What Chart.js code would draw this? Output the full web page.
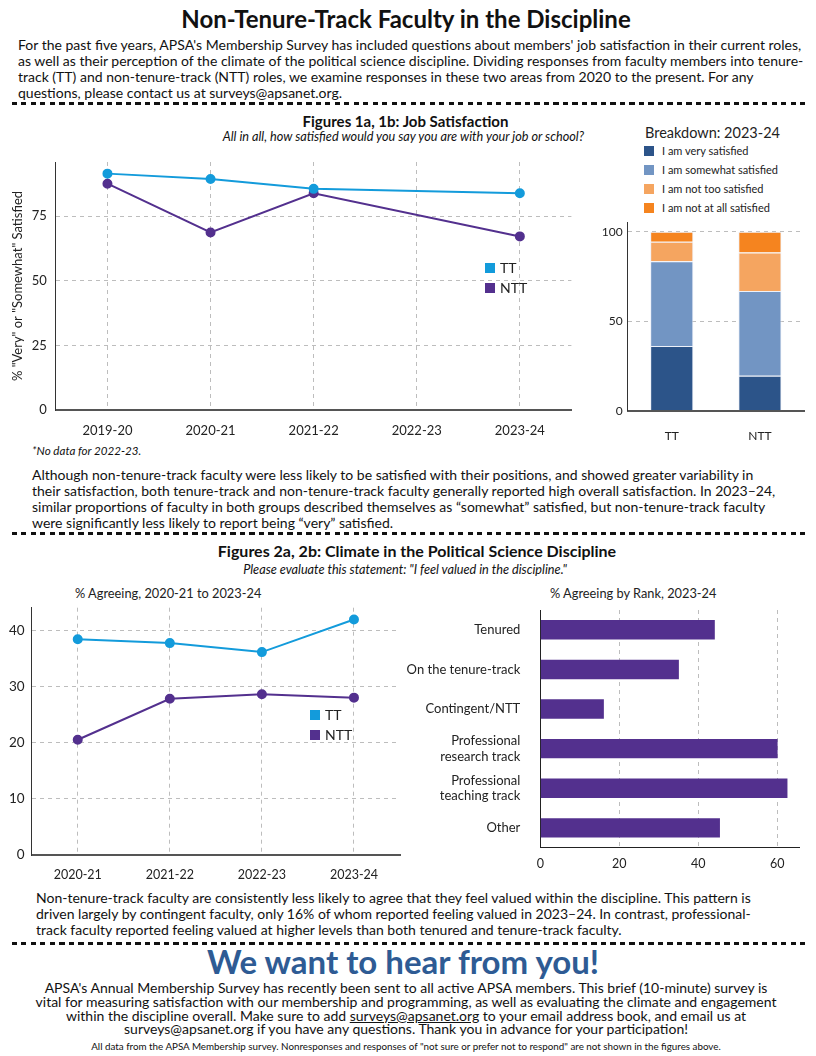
<!DOCTYPE html>
<html>
<head>
<meta charset="utf-8">
<script src="https://cdn.jsdelivr.net/npm/chart.js@4.4.1/dist/chart.umd.min.js"></script>
<style>
  body { margin: 0; width: 816px; height: 1056px; position: relative; background: #fff; font-family: Lato, sans-serif; color: #111; overflow: hidden; }
  .abs { position: absolute; }
  .line { white-space: nowrap; }
  .dash { position: absolute; left: 12px; width: 794px; height: 3px;
          background: repeating-linear-gradient(90deg, #111 0 5px, transparent 5px 9.5px); }
  .box { position: absolute; }
  .legend { position: absolute; font-size: 14px; color: #222; }
  .legend .item { position: relative; height: 20px; line-height: 20px; padding-left: 15px; }
  .legend .sw { position: absolute; left: 0; top: 5px; width: 10px; height: 10px; }
  #leg1b .item { height: 19px; line-height: 19px; padding-left: 18px; }
  #leg1b .sw { top: 4.5px; }
</style>
</head>
<body>

<div class="abs line" style="left:0;width:812px;top:4px;text-align:center;font-weight:bold;font-size:24px;">Non-Tenure-Track Faculty in the Discipline</div>
<div class="abs line" style="left:18px;top:37px;font-size:14px;line-height:16px;">
For the past five years, APSA's Membership Survey has included questions about members' job satisfaction in their current roles,<br>
as well as their perception of the climate of the political science discipline. Dividing responses from faculty members into tenure-<br>
track (TT) and non-tenure-track (NTT) roles, we examine responses in these two areas from 2020 to the present. For any<br>
questions, please contact us at surveys@apsanet.org.
</div>
<div class="dash" style="top:102px;"></div>

<div class="abs line" style="left:0;width:811px;top:112px;text-align:center;font-weight:bold;font-size:15px;">Figures 1a, 1b: Job Satisfaction</div>
<div class="abs line" style="left:0;width:584px;top:128px;text-align:right;font-style:italic;font-size:12.7px;">All in all, how satisfied would you say you are with your job or school?</div>

<div class="box" style="left:0;top:150px;width:580px;height:290px;"><canvas id="c1a"></canvas></div>
<div class="legend" id="leg1a" style="left:485px;top:257.7px;"></div>

<div class="abs line" style="left:645px;top:124px;font-size:14.5px;color:#222;">Breakdown: 2023-24</div>
<div class="legend" id="leg1b" style="left:644px;top:141px;font-size:11px;"></div>
<div class="box" style="left:600px;top:210px;width:216px;height:230px;"><canvas id="c1b"></canvas></div>

<div class="abs line" style="left:32px;top:444px;font-style:italic;font-size:11.6px;">*No data for 2022-23.</div>
<div class="abs line" style="left:32px;top:467px;font-size:14px;line-height:16px;">
Although non-tenure-track faculty were less likely to be satisfied with their positions, and showed greater variability in<br>
their satisfaction, both tenure-track and non-tenure-track faculty generally reported high overall satisfaction. In 2023–24,<br>
similar proportions of faculty in both groups described themselves as “somewhat” satisfied, but non-tenure-track faculty<br>
were significantly less likely to report being “very” satisfied.
</div>
<div class="dash" style="top:532px;"></div>

<div class="abs line" style="left:0;width:834px;top:541px;text-align:center;font-weight:bold;font-size:16px;">Figures 2a, 2b: Climate in the Political Science Discipline</div>
<div class="abs line" style="left:0;width:810px;top:561px;text-align:center;font-style:italic;font-size:12.7px;">Please evaluate this statement: "I feel valued in the discipline."</div>
<div class="abs line" style="left:75px;top:585px;font-size:12.8px;color:#222;">% Agreeing, 2020-21 to 2023-24</div>
<div class="abs line" style="left:550px;top:585px;font-size:12.8px;color:#222;">% Agreeing by Rank, 2023-24</div>

<div class="box" style="left:0;top:596px;width:410px;height:284px;"><canvas id="c2a"></canvas></div>
<div class="legend" id="leg2a" style="left:310px;top:705px;"></div>
<div class="box" style="left:400px;top:598px;width:416px;height:282px;"><canvas id="c2b"></canvas></div>

<div class="abs line" style="left:36px;top:890px;font-size:14px;line-height:16px;">
Non-tenure-track faculty are consistently less likely to agree that they feel valued within the discipline. This pattern is<br>
driven largely by contingent faculty, only 16% of whom reported feeling valued in 2023–24. In contrast, professional-<br>
track faculty reported feeling valued at higher levels than both tenured and tenure-track faculty.
</div>
<div class="dash" style="top:942px;"></div>

<div class="abs line" style="left:0;width:806px;top:941px;text-align:center;font-weight:bold;font-size:33px;color:#2e5b94;">We want to hear from you!</div>
<div class="abs line" style="left:0;width:812px;top:981px;text-align:center;font-size:14px;line-height:13.8px;">
APSA's Annual Membership Survey has recently been sent to all active APSA members. This brief (10-minute) survey is<br>
vital for measuring satisfaction with our membership and programming, as well as evaluating the climate and engagement<br>
within the discipline overall. Make sure to add <u>surveys@apsanet.org</u> to your email address book, and email us at<br>
surveys@apsanet.org if you have any questions. Thank you in advance for your participation!
</div>
<div class="abs line" style="left:0;width:812px;top:1040px;text-align:center;font-size:9.8px;">All data from the APSA Membership survey. Nonresponses and responses of "not sure or prefer not to respond" are not shown in the figures above.</div>

<script>
// ---- data ----
const seasons1 = ['2019-20', '2020-21', '2021-22', '2022-23', '2023-24'];
const ttSatisfied = [91.5, 89.4, 85.6, null, 83.9];
const nttSatisfied = [87.6, 68.7, 83.9, null, 67.2];

const groups = ['TT', 'NTT'];
const breakdownLabels = ['I am very satisfied', 'I am somewhat satisfied', 'I am not too satisfied', 'I am not at all satisfied'];
const verySatisfied = [36.2, 19.5];
const somewhatSatisfied = [47.3, 47.3];
const notTooSatisfied = [10.9, 21.5];
const notAtAllSatisfied = [5.6, 11.7];

const seasons2 = ['2020-21', '2021-22', '2022-23', '2023-24'];
const ttValued = [38.4, 37.7, 36.1, 41.9];
const nttValued = [20.5, 27.8, 28.6, 28.0];

const ranks = ['Tenured', 'On the tenure-track', 'Contingent/NTT', ['Professional', 'research track'], ['Professional', 'teaching track'], 'Other'];
const rankValued = [44.2, 35.1, 16.1, 60.1, 62.6, 45.5];

const seriesNames = ['TT', 'NTT'];
const TT_BLUE = '#139bdb';
const NTT_PURPLE = '#53308e';
const breakdownColors = ['#2c5489', '#7295c3', '#f5a560', '#f5841f'];

Chart.defaults.font.family = 'Lato';
Chart.defaults.font.size = 12;
Chart.defaults.color = '#222';
Chart.defaults.animation = false;

const dashGrid = { color: '#bdbdbd', drawTicks: false };

// pin the scale box so the plot area lands where the reference has it
function fixWidth(w) {
  return (scale) => { scale.width = w; scale.paddingTop = 0; scale.paddingBottom = 0; };
}
function fixHeight(h) {
  return (scale) => { scale.height = h; scale.paddingLeft = 0; scale.paddingRight = 0; };
}

function makeLegend(id, names, colors) {
  const el = document.getElementById(id);
  names.forEach((n, i) => {
    const d = document.createElement('div');
    d.className = 'item';
    d.innerHTML = '<span class="sw" style="background:' + colors[i] + '"></span>' + n;
    el.appendChild(d);
  });
}

function lineDataset(label, data, color) {
  return {
    label: label, data: data, borderColor: color, backgroundColor: color,
    borderWidth: 2, pointRadius: 4, pointHoverRadius: 4, spanGaps: true, tension: 0
  };
}

// Figure 1a
new Chart(document.getElementById('c1a'), {
  type: 'line',
  data: {
    labels: seasons1,
    datasets: [lineDataset('TT', ttSatisfied, TT_BLUE), lineDataset('NTT', nttSatisfied, NTT_PURPLE)]
  },
  options: {
    responsive: true, maintainAspectRatio: false,
    layout: { padding: { top: 12, right: 8.6 } },
    plugins: { legend: { display: false }, tooltip: { enabled: false } },
    scales: {
      x: {
        offset: true,
        grid: { ...dashGrid, offset: false },
        border: { color: '#555', width: 2, dash: [4, 4] },
        ticks: { padding: 13, font: { size: 13 } },
        afterFit: fixHeight(30)
      },
      y: {
        min: 0, max: 96,
        grid: dashGrid,
        border: { color: '#333', width: 1, dash: [4, 4] },
        ticks: { stepSize: 25, padding: 9, includeBounds: false, font: { size: 13 } },
        title: { display: true, text: '% "Very" or "Somewhat" Satisfied', font: { size: 13 }, padding: { top: 10, bottom: 0 } },
        afterFit: fixWidth(55.9)
      }
    }
  }
});
makeLegend('leg1a', seriesNames, [TT_BLUE, NTT_PURPLE]);

// Figure 1b
const breakdownValues = [verySatisfied, somewhatSatisfied, notTooSatisfied, notAtAllSatisfied];
new Chart(document.getElementById('c1b'), {
  type: 'bar',
  data: {
    labels: groups,
    datasets: breakdownLabels.map((l, i) => ({
      label: l, data: breakdownValues[i], backgroundColor: breakdownColors[i],
      borderColor: 'rgba(235,240,248,0.9)', borderWidth: 1,
      barPercentage: 0.49, categoryPercentage: 1
    }))
  },
  options: {
    responsive: true, maintainAspectRatio: false,
    layout: { padding: { top: 12.7, right: 12 } },
    plugins: { legend: { display: false }, tooltip: { enabled: false } },
    scales: {
      x: {
        stacked: true,
        grid: { display: false },
        border: { color: '#555', width: 2 },
        ticks: { padding: 10, font: { size: 12 } },
        afterFit: fixHeight(29.3)
      },
      y: {
        stacked: true, min: 0, max: 105,
        grid: dashGrid,
        border: { color: '#333', width: 1, dash: [4, 4] },
        ticks: { stepSize: 50, padding: 5, includeBounds: false, font: { size: 12 } },
        afterFit: fixWidth(27.7)
      }
    }
  }
});
makeLegend('leg1b', breakdownLabels, breakdownColors);

// Figure 2a
new Chart(document.getElementById('c2a'), {
  type: 'line',
  data: {
    labels: seasons2,
    datasets: [lineDataset('TT', ttValued, TT_BLUE), lineDataset('NTT', nttValued, NTT_PURPLE)]
  },
  options: {
    responsive: true, maintainAspectRatio: false,
    layout: { padding: { top: 11.7, right: 10 } },
    plugins: { legend: { display: false }, tooltip: { enabled: false } },
    scales: {
      x: {
        offset: true,
        grid: { ...dashGrid, offset: false },
        border: { color: '#555', width: 2, dash: [4, 4] },
        ticks: { padding: 12, font: { size: 12.5 } },
        afterFit: fixHeight(25)
      },
      y: {
        min: 0, max: 44,
        grid: dashGrid,
        border: { color: '#333', width: 1, dash: [4, 4] },
        ticks: { stepSize: 10, padding: 7, includeBounds: false, font: { size: 13.5 } },
        afterFit: fixWidth(31.7)
      }
    }
  }
});
makeLegend('leg2a', seriesNames, [TT_BLUE, NTT_PURPLE]);

// Figure 2b
new Chart(document.getElementById('c2b'), {
  type: 'bar',
  data: {
    labels: ranks,
    datasets: [{ label: '% Agreeing', data: rankValued, backgroundColor: NTT_PURPLE, barPercentage: 0.49, categoryPercentage: 1 }]
  },
  options: {
    indexAxis: 'y',
    responsive: true, maintainAspectRatio: false,
    layout: { padding: { top: 12, right: 16.7 } },
    plugins: { legend: { display: false }, tooltip: { enabled: false } },
    scales: {
      x: {
        min: 0, max: 65.6,
        grid: dashGrid,
        border: { color: '#222', width: 1, dash: [4, 4] },
        ticks: { stepSize: 20, padding: 9, includeBounds: false, font: { size: 12.5 } },
        afterFit: fixHeight(32.3)
      },
      y: {
        grid: { display: false },
        border: { color: '#222', width: 1 },
        ticks: { padding: 12, font: { size: 13 } },
        afterFit: fixWidth(140.3)
      }
    }
  }
});
</script>
</body>
</html>
